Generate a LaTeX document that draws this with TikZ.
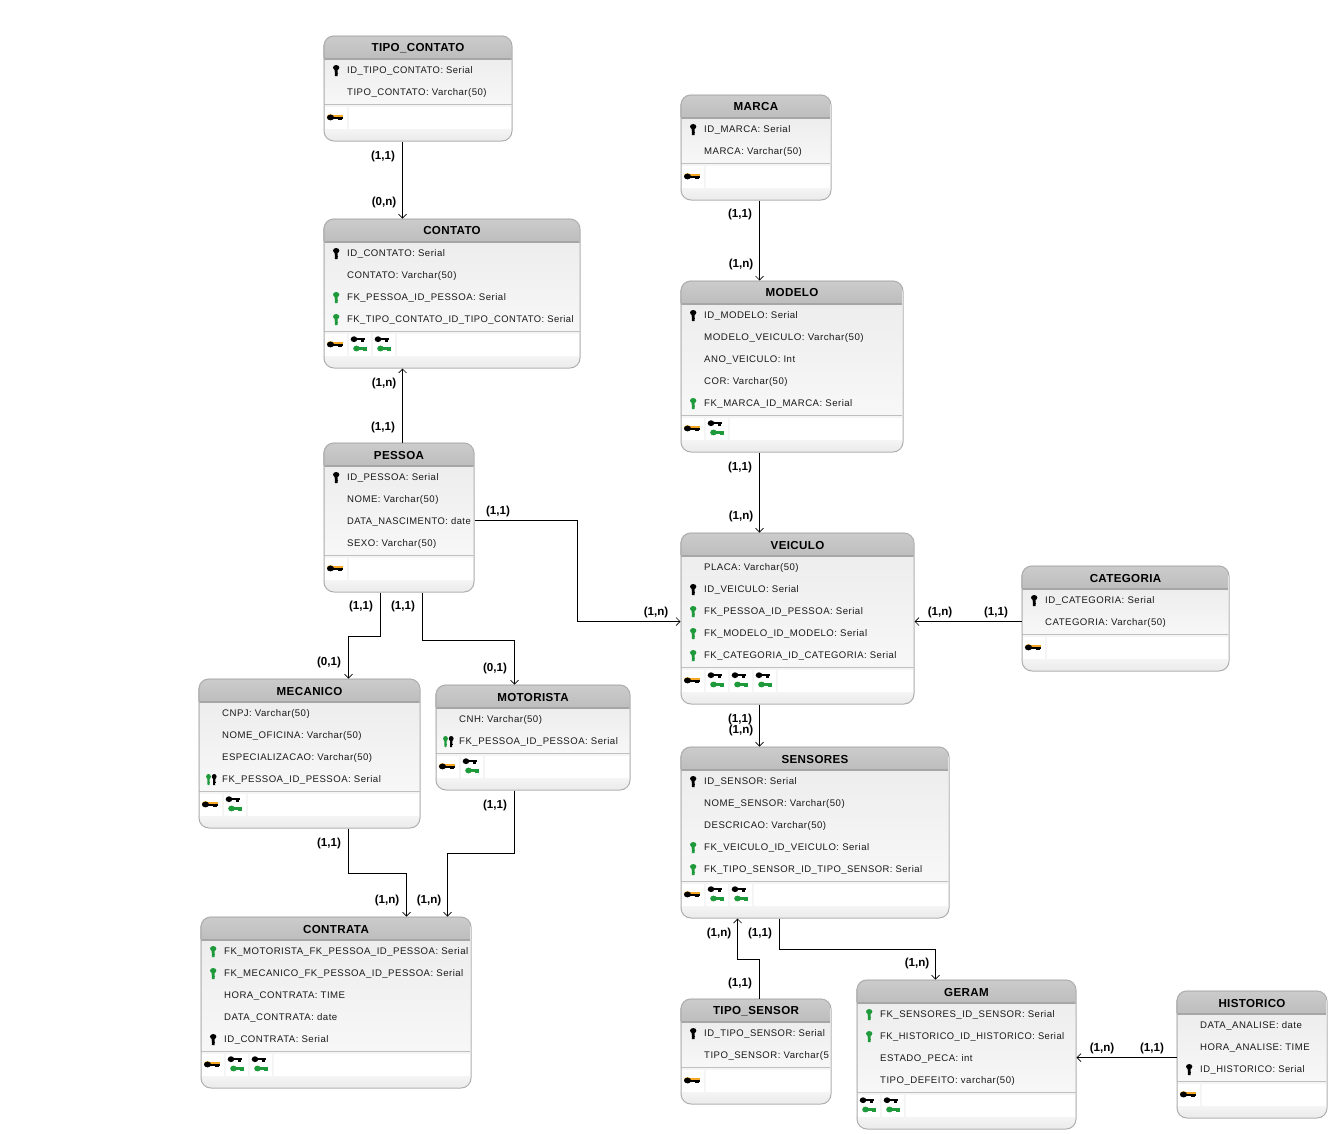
\documentclass[tikz,border=0pt]{standalone}
\usepackage{fontspec}
\usepackage{graphicx}
\setmainfont{Liberation Sans}
\newfontfamily\rowfont[LetterSpace=5]{Liberation Sans}
\newfontfamily\titlefont[LetterSpace=3]{Liberation Sans}
\usetikzlibrary{calc,arrows.meta}
\definecolor{titlegray}{HTML}{BDBDBD}
\definecolor{edgegray}{HTML}{AEAEAE}
\definecolor{fkgreen}{HTML}{1E9A3A}
\definecolor{pkorange}{HTML}{F5A623}
\newcommand{\sx}[2]{\scalebox{#1}[1]{#2}}
\tikzset{
  entbox/.style={draw=edgegray,line width=1pt,rounded corners=10pt,inner sep=0pt,fill=none},
  rowtext/.style={anchor=west,inner sep=0pt,text height=7pt,text depth=2pt,font=\rowfont\fontsize{9.6}{10}\selectfont,text=black!90},
  titletext/.style={anchor=center,inner sep=0pt,font=\titlefont\bfseries\fontsize{11.6}{12}\selectfont},
  card/.style={anchor=center,inner sep=0pt,font=\bfseries\fontsize{11.6}{12}\selectfont},
  conn/.style={draw=black,line width=1pt,-{Straight Barb[length=4pt,width=8pt,line width=.7pt]}},
  pics/vkey/.style={code={
    \fill[#1] (0,3.4) ellipse (3.2 and 2.6);
    \fill[#1] (-1.6,4) -- (1.6,4) -- (1.3,-5.2) -- (-1.3,-5.2) -- cycle;
    \fill[#1] (1,-3.2) rectangle (2.2,-1.8);
  }},
  pics/hkey/.style={code={
    \fill[#1] (-4,0) ellipse (3.3 and 2.9);
    \fill[#1] (-4,-1.2) rectangle (6.5,1.2);
    \fill[#1] (2.6,-2.6) rectangle (6,0);
  }},
  pics/pkkey/.style={code={
    \fill[pkorange] (-4.5,.6) ellipse (3.6 and 2.8);
    \fill[pkorange] (-4.5,0) rectangle (8,2.1);
    \fill[black] (-4.5,0) ellipse (3.6 and 2.9);
    \fill[black] (-4.5,-1.5) rectangle (8,.9);
    \fill[black] (2.6,-2.6) rectangle (6.5,0);
  }},
}
% #1 name, #2 x, #3 top, #4 width, #5 title, #6 n rows, #7 rows, #8 footer cells
\newcommand{\entity}[8]{%
  \pgfmathsetmacro{\entH}{61+22*#6}
  \pgfmathsetmacro{\entB}{-(#3)-\entH}
  \pgfmathsetmacro{\entR}{#2+#4}
  \begin{scope}
    \clip[rounded corners=10pt] (#2,-#3) rectangle (\entR,\entB);
    \shade[top color=white!93!black,bottom color=white!97!black] (#2,-#3-23) rectangle (\entR,\entB+36);
    \fill[white!96!black] (#2,\entB+36) rectangle (\entR,\entB);
    \shade[top color=white!96!black,bottom color=white!92!black] (#2,\entB+12) rectangle (\entR,\entB);
    \shade[top color=white!80!black,bottom color=titlegray] (#2,-#3) rectangle (\entR,-#3-23);
    \fill[white!65!black] (#2,-#3-22.5) rectangle (\entR,-#3-24);
    \fill[white!75!black] (#2,\entB+35.5) rectangle (\entR,\entB+37);
  \end{scope}
  \node[entbox,anchor=north west,minimum width=#4 pt,minimum height=\entH pt] (#1) at (#2,-#3) {};
  \node[titletext] (#1-title) at ($(#1.north)+(0,-12.5)$) {#5};
  \foreach \k/\t [count=\i from 0] in {#7} {
    \pgfmathsetmacro{\rowY}{-(#3)-35.5-22*\i}
    \node[rowtext] (#1-r\i) at (#2+23.5,\rowY) {\t};
    \if\k p\pic at (#2+12.7,\rowY) {vkey=black};\fi
    \if\k f\pic at (#2+12.7,\rowY) {vkey=fkgreen};\fi
    \if\k d\pic[xscale=.75] at (#2+10,\rowY) {vkey=fkgreen};\pic[xscale=.75] at (#2+15.7,\rowY) {vkey=black};\fi
  }
  \foreach \c [count=\j from 0] in {#8} {
    \pgfmathsetmacro{\cellL}{#2+1+24*\j}
    \fill[white] (\cellL,\entB+12) rectangle (\cellL+22,\entB+34);
    \if\c p\pic at (\cellL+10.5,\entB+23) {pkkey};\fi
    \if\c f\pic at (\cellL+9.5,\entB+28.3) {hkey=black};\pic at (\cellL+12,\entB+19) {hkey=fkgreen};\fi
    \xdef\lastcell{\j}
  }
  \pgfmathsetmacro{\restL}{#2+1+24*(\lastcell+1)}
  \fill[white] (\restL,\entB+12) rectangle (\entR-.5,\entB+34);
}
\newcommand{\cardlabel}[3]{\node[card] (#1) at (#2) {#3};}
\begin{document}
\begin{tikzpicture}[x=1pt,y=1pt]
\useasboundingbox (0,0) rectangle (1331,-1133);
\fill[white] (0,0) rectangle (1331,-1133);

\entity{tipocontato}{323.5}{35.5}{188}{TIPO\_CONTATO}{2}{p/\sx{.98}{ID\_TIPO\_CONTATO: Serial},n/TIPO\_CONTATO: Varchar(50)}{p}
\entity{marca}{680.5}{94.5}{150}{MARCA}{2}{p/ID\_MARCA: Serial,n/MARCA: Varchar(50)}{p}
\entity{contato}{323.5}{218.5}{256}{CONTATO}{4}{p/ID\_CONTATO: Serial,n/CONTATO: Varchar(50),f/FK\_PESSOA\_ID\_PESSOA: Serial,f/\sx{.978}{FK\_TIPO\_CONTATO\_ID\_TIPO\_CONTATO: Serial}}{p,f,f}
\entity{modelo}{680.5}{280.5}{222}{MODELO}{5}{p/ID\_MODELO: Serial,n/\sx{1.02}{MODELO\_VEICULO: Varchar(50)},n/ANO\_VEICULO: Int,n/COR: Varchar(50),f/FK\_MARCA\_ID\_MARCA: Serial}{p,f}
\entity{pessoa}{323.5}{442.5}{150}{PESSOA}{4}{p/ID\_PESSOA: Serial,n/NOME: Varchar(50),n/\sx{.977}{DATA\_NASCIMENTO: date},n/SEXO: Varchar(50)}{p}
\entity{veiculo}{680.5}{532.5}{233}{VEICULO}{5}{n/PLACA: Varchar(50),p/ID\_VEICULO: Serial,f/FK\_PESSOA\_ID\_PESSOA: Serial,f/FK\_MODELO\_ID\_MODELO: Serial,f/\sx{.99}{FK\_CATEGORIA\_ID\_CATEGORIA: Serial}}{p,f,f,f}
\entity{categoria}{1021.5}{565.5}{207}{CATEGORIA}{2}{p/ID\_CATEGORIA: Serial,n/CATEGORIA: Varchar(50)}{p}
\entity{mecanico}{198.5}{678.5}{221}{MECANICO}{4}{n/CNPJ: Varchar(50),n/NOME\_OFICINA: Varchar(50),n/ESPECIALIZACAO: Varchar(50),d/FK\_PESSOA\_ID\_PESSOA: Serial}{p,f}
\entity{motorista}{435.5}{684.5}{194}{MOTORISTA}{2}{n/CNH: Varchar(50),d/FK\_PESSOA\_ID\_PESSOA: Serial}{p,f}
\entity{sensores}{680.5}{746.5}{268}{SENSORES}{5}{p/ID\_SENSOR: Serial,n/NOME\_SENSOR: Varchar(50),n/DESCRICAO: Varchar(50),f/FK\_VEICULO\_ID\_VEICULO: Serial,f/\sx{.986}{FK\_TIPO\_SENSOR\_ID\_TIPO\_SENSOR: Serial}}{p,f,f}
\entity{contrata}{200.5}{916.5}{270}{CONTRATA}{5}{f/FK\_MOTORISTA\_FK\_PESSOA\_ID\_PESSOA: Serial,f/FK\_MECANICO\_FK\_PESSOA\_ID\_PESSOA: Serial,n/HORA\_CONTRATA: TIME,n/DATA\_CONTRATA: date,p/ID\_CONTRATA: Serial}{p,f,f}
\entity{tiposensor}{680.5}{998.5}{150}{TIPO\_SENSOR}{2}{p/\sx{.985}{ID\_TIPO\_SENSOR: Serial},n/TIPO\_SENSOR: Varchar(5}{p}
\entity{geram}{856.5}{979.5}{219}{GERAM}{4}{f/FK\_SENSORES\_ID\_SENSOR: Serial,f/\sx{.974}{FK\_HISTORICO\_ID\_HISTORICO: Serial},n/ESTADO\_PECA: int,n/TIPO\_DEFEITO: varchar(50)}{f,f}
\entity{historico}{1176.5}{990.5}{150}{HISTORICO}{3}{n/DATA\_ANALISE: date,n/HORA\_ANALISE: TIME,p/\sx{.98}{ID\_HISTORICO: Serial}}{p}

% connectors
\draw[conn] ($(tipocontato.south west)+(79,0)$) -- ($(contato.north west)+(79,0)$);
\draw[conn] ($(marca.south west)+(79,0)$) -- ($(modelo.north west)+(79,0)$);
\draw[conn] ($(modelo.south west)+(79,0)$) -- ($(veiculo.north west)+(79,0)$);
\draw[conn] ($(pessoa.north west)+(79,0)$) -- ($(contato.south west)+(79,0)$);
\draw[conn] ($(pessoa.north east)+(0,-78)$) -| ($(veiculo.north west)+(-103,-89)$) -- ($(veiculo.north west)+(0,-89)$);
\draw[conn] ($(pessoa.south west)+(57,0)$) |- ($(pessoa.south west)+(25,-43.5)$) -- ($(mecanico.north west)+(150,0)$);
\draw[conn] ($(pessoa.south west)+(99,0)$) |- ($(pessoa.south west)+(191,-47.5)$) -- ($(motorista.north west)+(79,0)$);
\draw[conn] ($(mecanico.south west)+(150,0)$) |- ($(mecanico.south west)+(208,-45)$) -- ($(contrata.north west)+(206,0)$);
\draw[conn] ($(motorista.south west)+(79,0)$) |- ($(motorista.south west)+(12,-63)$) -- ($(contrata.north west)+(247,0)$);
\draw[conn] ($(categoria.north west)+(0,-56)$) -- ($(veiculo.north east)+(0,-89)$);
\draw[conn] ($(veiculo.south west)+(79,0)$) -- ($(sensores.north west)+(79,0)$);
\draw[conn] ($(tiposensor.north west)+(79,0)$) |- ($(tiposensor.north west)+(57,39.5)$) -- ($(sensores.south west)+(57,0)$);
\draw[conn] ($(sensores.south west)+(99,0)$) |- ($(sensores.south west)+(255,-31)$) -- ($(geram.north west)+(79,0)$);
\draw[conn] ($(historico.north west)+(0,-67)$) -- ($(geram.north east)+(0,-78)$);

% cardinalities
\cardlabel{c1}{383,-156}{(1,1)}
\cardlabel{c2}{384,-202}{(0,n)}
\cardlabel{c3}{384,-383}{(1,n)}
\cardlabel{c4}{383,-427}{(1,1)}
\cardlabel{c5}{498,-511}{(1,1)}
\cardlabel{c6}{361,-606}{(1,1)}
\cardlabel{c7}{403,-606}{(1,1)}
\cardlabel{c8}{329,-662}{(0,1)}
\cardlabel{c9}{495,-668}{(0,1)}
\cardlabel{c10}{656,-612}{(1,n)}
\cardlabel{c11}{740,-214}{(1,1)}
\cardlabel{c12}{741,-264}{(1,n)}
\cardlabel{c13}{740,-467}{(1,1)}
\cardlabel{c14}{741,-516}{(1,n)}
\cardlabel{c15}{940,-612}{(1,n)}
\cardlabel{c16}{996,-612}{(1,1)}
\cardlabel{c17}{740,-719}{(1,1)}
\cardlabel{c18}{741,-730}{(1,n)}
\cardlabel{c19}{329,-843}{(1,1)}
\cardlabel{c20}{495,-805}{(1,1)}
\cardlabel{c21}{387,-900}{(1,n)}
\cardlabel{c22}{429,-900}{(1,n)}
\cardlabel{c23}{719,-933}{(1,n)}
\cardlabel{c24}{760,-933}{(1,1)}
\cardlabel{c25}{740,-983}{(1,1)}
\cardlabel{c26}{917,-963}{(1,n)}
\cardlabel{c27}{1102,-1048}{(1,n)}
\cardlabel{c28}{1152,-1048}{(1,1)}
\end{tikzpicture}
\end{document}
